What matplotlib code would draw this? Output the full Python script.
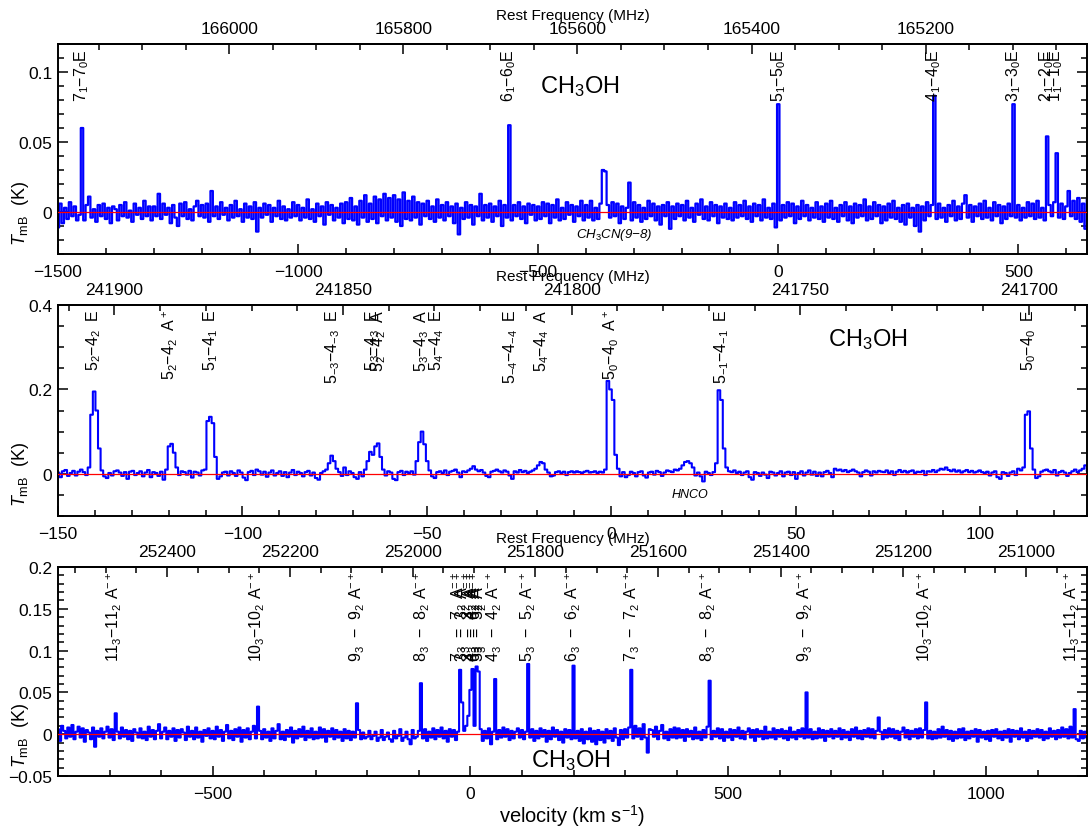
import numpy as np
import matplotlib
matplotlib.use("Agg")
import matplotlib.pyplot as plt
import matplotlib.transforms as mtransforms
from matplotlib.ticker import MultipleLocator, FixedLocator, FuncFormatter

plt.rcParams['font.family'] = ['Liberation Sans', 'DejaVu Sans']
plt.rcParams['mathtext.fontset'] = 'custom'
plt.rcParams['mathtext.rm'] = 'Liberation Sans'
plt.rcParams['mathtext.it'] = 'Liberation Sans:italic'
plt.rcParams['mathtext.bf'] = 'Liberation Sans:bold'

C_KMS = 299792.458

# ---------------- 165 GHz band: CH3OH J_1 - J_0 E ----------------
top_f0 = 165369.3            # MHz, reference frequency of v = 0
top_v_start = -1500.0        # km/s, first channel
top_dv = 5.0                 # km/s, channel width
top_tmb_mk = [
    -11, 6, -8, 3, -5, 7, -3, 4, -6, -2, 60, -6, 5, 11, -4, 2, -7, 5, -3, 6,
    -5, 3, -8, 4, 2, -6, 5, -3, 7, -4, 1, -7, 6, -2, 3, -5, 8, -3, 4, -6,
    4, -3, 13, -5, 6, -2, 3, -8, 5, -4, -10, 6, -3, 7, -5, 2, -6, 4, 8, -3,
    5, -4, 6, -7, 15, -3, 4, -5, 7, -2, 3, -6, 5, -4, 8, -3, 2, -7, 6, -4,
    4, -5, 7, -14, 3, -4, 6, -2, 5, -7, 3, -3, 8, -5, 4, -6, 2, -4, 7, -3,
    5, -6, 3, -4, 9, -5, 2, -7, 6, -3, 4, -9, 7, -2, 5, -6, 3, -4, 6, -8,
    7, -5, 10, -6, 4, -9, 8, -4, 12, -7, 6, -5, 11, -8, 9, -3, 13, -6, 10, -4,
    12, -7, 9, -10, 14, -5, 8, -6, 11, -4, 7, -9, 6, -3, 8, -5, 4, -7, 9, -4,
    5, -6, 7, -3, 4, -8, 6, -16, 3, -5, 7, -4, 5, -9, 4, -3, 13, -6, 5, -4,
    6, -7, 4, -3, 8, -10, 5, -4, 62, -6, 5, -3, 7, -5, 4, -8, 6, -2, 5, -6,
    4, -5, 7, -3, 6, -8, 5, -4, 9, -6, 3, -5, 7, -2, 5, -7, 4, -3, 8, -6,
    5, -4, 8, -6, 3, -5, 6, 30, 29, 5, -4, 7, -3, 6, -8, 4, -5, 3, 21, -6,
    7, -4, 5, -7, 3, -5, 8, -3, 6, -6, 4, -9, 5, -3, 7, -12, 4, -5, 6, -3,
    5, -6, 8, -4, 3, -7, 6, -2, 9, -5, 4, -6, 7, -3, 5, -8, 4, -4, 6, -5,
    3, -6, 7, -4, 5, -3, 8, -5, 4, -7, 6, -3, 5, -6, 9, -4, 3, -5, 6, -11,
    77, -6, 5, -4, 7, -3, 6, -8, 4, -5, 8, -3, 5, -6, 3, -4, 7, -5, 4, -7,
    6, -4, 8, -5, 3, -7, 5, -3, 7, -6, 4, -8, 6, -4, 5, -3, 9, -6, 4, -5,
    7, -3, 5, -8, 4, -6, 6, -4, 8, -5, 3, -7, 5, -9, 6, -4, 3, -10, 5, -14,
    4, -6, 7, -3, 5, 83, -5, 6, -4, 3, -7, 5, -3, 8, -6, 4, -5, 6, 12, -4,
    5, -7, 4, -3, 6, -5, 8, -4, 3, -6, 7, -3, 5, -8, 4, -5, 6, -3, 77, -4,
    5, -6, 3, -4, 7, -3, 6, -5, 8, -4, 3, -6, 54, 5, -3, 7, 42, -4, 6, -5,
    4, 15, -3, 8, -5, 10, -7, 6, -12, 9,
]
top_line_freqs = [166169.1, 165678.6, 165369.3, 165190.5, 165099.2, 165061.1, 165050.2]
top_line_labels = ["7$_1$\u22127$_0$E", "6$_1$\u22126$_0$E", "5$_1$\u22125$_0$E",
                   "4$_1$\u22124$_0$E", "3$_1$\u22123$_0$E", "2$_1$\u22122$_0$E",
                   "1$_1$\u22121$_0$E"]

# ---------------- 241.8 GHz band: CH3OH 5_K - 4_K ----------------
mid_f0 = 241791.35
mid_v_start = -150.0
mid_dv = 0.7
mid_tmb_mk = [
    3, -8, 6, 9, -5, 2, 7, -4, 5, 10, 4, -3, 15, 140, 195, 150, 60, 8, -6, -10,
    2, -4, 6, 8, 3, -5, 4, -12, 5, 7, -3, 2, 6, -6, 3, 9, -8, 4, 2, -5,
    5, -14, 10, 65, 71, 50, 15, -3, 6, 4, -2, 7, -9, 5, 3, -4, 8, 10, 125, 135,
    120, 40, -12, -6, 3, 5, -4, 6, 2, -5, 8, 3, -9, -15, 4, 7, -3, 10, 6, -2,
    5, -7, 3, 8, -4, 2, 6, -5, 4, -8, 3, 9, -3, 5, 2, -6, 4, 7, -4, 3,
    -10, -14, 2, 6, 10, 25, 43, 30, 12, 4, -5, 15, -3, 6, 2, -8, -12, 4, -6, 10,
    30, 52, 45, 65, 72, 40, 10, -4, 6, 3, -12, -15, 4, 7, -3, 5, 2, 6, -2, 30,
    75, 100, 70, 30, 8, -6, -10, 4, 6, 2, 8, -3, 5, 7, 10, 3, -8, 6, 4, 8,
    12, 18, 10, 6, 9, 3, -5, -8, 5, 7, 10, 6, 3, 8, 5, -4, -12, 6, 3, 9,
    4, 7, 2, 5, 8, 12, 20, 28, 25, 10, 3, -6, -4, 4, 6, 2, 5, -3, 4, 6,
    3, 6, 4, 2, 5, 7, 3, 4, 6, 2, 5, 3, 10, 220, 200, 175, 45, 12, -6, 4,
    -8, -3, 5, 2, -6, 4, 6, -4, -9, 3, 5, -2, 7, 4, -5, 3, 8, 6, 4, 10,
    8, 12, 20, 28, 30, 25, 15, -4, 3, -6, -18, 5, 2, -3, 4, 25, 198, 175, 60, 15,
    6, 4, 8, 2, 5, -3, 3, 6, -8, -14, 4, 2, -5, 3, -2, -10, 5, 3, -4, 2,
    6, -6, 3, 5, -3, 4, -12, 2, 6, -4, 3, 8, -2, 5, -5, 3, -6, 4, 7, 2,
    -8, 12, 8, 10, 6, 9, 4, 7, 10, 6, 3, -6, 4, 8, 5, -4, 6, 3, 7, 5,
    4, 8, 2, 6, -3, 5, 9, 4, 7, 3, 6, 8, 2, 5, 4, 7, -3, 6, 5, 9,
    4, 8, 12, 10, 15, 9, 6, 10, 5, 8, 3, 6, 9, 4, 7, 3, 5, 8, 4, 2,
    5, -4, 3, 6, -8, -12, 4, 2, -5, 3, 6, -3, 12, 8, 15, 140, 148, 60, 10, -10,
    -6, 5, 8, 10, 6, 3, 9, -4, 4, 7, 3, -5, 2, 6, 10, 4, 8, 12, 20, 6,
]
mid_line_freqs = [241904.64, 241887.67, 241879.03, 241852.30, 241843.60, 241842.28,
                  241832.72, 241829.63, 241813.26, 241806.52, 241791.35, 241767.23,
                  241700.16]
mid_line_labels = ["5$_2$\u22124$_2$  E", "5$_2$\u22124$_2$  A$^+$", "5$_1$\u22124$_1$  E",
                   "5$_{-3}$\u22124$_{-3}$  E", "5$_3$\u22124$_3$  E", "5$_2$\u22124$_2$  A",
                   "5$_3$\u22124$_3$  A", "5$_4$\u22124$_4$  E", "5$_{-4}$\u22124$_{-4}$  E",
                   "5$_4$\u22124$_4$  A", "5$_0$\u22124$_0$  A$^+$", "5$_{-1}$\u22124$_{-1}$  E",
                   "5$_0$\u22124$_0$  E"]

# ---------------- 251.9 GHz band: CH3OH J_3 - J_2 A ----------------
bot_f0 = 251905.73
bot_v_start = -800.0
bot_dv = 4.0
bot_tmb_mk = [
    6, -8, 10, 4, -5, 8, -3, 11, -6, 3, 9, -4, 7, -9, 5, 2, -6, 8, -15, 4, -3, 7, -5, 3, 9,
    -4, 6, -7, 25, 3, -5, 8, -3, 5, -6, 4, -8, 6, 2, -4, 7, -5, 3, -7, 9, -3, 5, -6, 4, 12,
    -5, 3, 8, -6, 4, -3, 7, -8, 5, -4, 6, 2, -7, 9, -3, 4, -6, 8, -4, 3, -9, 5, -2, 7, -5,
    4, -6, 9, -3, 5, -8, 3, 11, -5, 4, -7, 6, -3, 8, -9, 5, -4, 7, -6, 3, 10, -5, 33, 4, -6,
    6, -4, 3, -8, 7, -5, 4, 12, -6, 3, -7, 5, -3, 8, -10, 4, -5, 6, -3, 9, -7, 4, -4, 7, -6,
    3, -5, 8, -4, 6, -9, 4, -3, 7, -6, 5, -4, 3, -8, 6, -5, 4, -7, 3, -4, 37, 5, -6, 2, -5,
    -3, 4, -6, -2, 3, -8, -4, 5, -7, -3, 2, -6, -9, 4, -5, -2, 6, -8, -4, 3, -6, -12, 5, -5, -3,
    4, 61, -5, 6, -8, 3, -4, 7, -6, 5, -3, 8, -5, 4, -9, 6, -3, 5, -7, 3, 77, 38, 4, 10, 22,
    53, 78, 10, 81, 75, 6, -8, 4, -5, 7, -12, 3, 66, -6, 5, -4, 8, -3, 6, -7, 4, -5, 3, 7, -4,
    5, -6, 3, 84, -4, 6, -8, 4, -5, 7, -3, 5, -9, 4, -6, 8, -3, 5, -7, 3, -10, 6, -4, 5, -6,
    82, -5, 4, -8, 6, -11, 3, -6, 7, -9, 4, -12, 5, -7, 3, -10, 6, -5, 4, -8, 7, -4, -13, 5, -6,
    6, -4, 8, 77, -5, 10, -3, 7, -6, 12, -4, -22, 6, 5, -3, 9, -6, 4, 11, -5, 3, -7, 6, -4, 8,
    -5, 7, -4, 5, -8, 6, -3, 4, -6, 8, -5, 3, -7, 5, -4, 9, 64, -6, 4, -3, 7, -5, 6, -8, 3,
    -4, 6, -7, 5, -3, 8, -5, 4, -6, 3, 7, -4, 5, -8, 6, -3, 4, -6, 9, -5, 3, -4, 7, -6, 5,
    -3, 6, -5, 4, -7, 8, -4, 3, -6, 5, -3, 7, -5, 50, -4, 6, -6, 3, -5, 7, -4, 5, -8, 4, -3,
    6, -5, 4, -3, 7, -6, 5, -4, 3, -7, 6, -3, 8, -5, 4, -6, 5, -3, 7, -4, 6, -5, 4, 20, 3,
    -6, 5, -4, 7, -3, 6, -5, 4, -7, 3, 8, -4, 5, -6, 4, -3, 6, -5, 7, -4, 5, 38, -5, 4, -6,
    3, -5, 6, -4, 9, -3, 5, -6, 4, -8, 3, -5, 6, -4, 7, -7, 3, -5, 4, -3, 6, -9, 5, -4, 3,
    -6, 4, -8, 5, -3, 6, -5, 3, -7, 4, -4, 6, -9, 5, -3, 4, -6, 7, -4, 3, -8, 5, -5, 4, -3,
    6, -4, 5, -7, 3, -5, 7, -3, 4, -6, 5, -4, 8, -3, 6, -5, 9, -4, 30, -6, -8, 4, -5, 3, -4,
    5,
]
bot_line_freqs = [252485.7, 252252.9, 252090.42, 251984.84, 251923.70, 251917.04,
                  251905.73, 251900.45, 251895.73, 251890.89, 251866.52, 251811.96,
                  251738.52, 251641.67, 251517.3, 251359.9, 251164.1, 250924.4]
bot_line_labels = ["11$_3$\u221211$_2$ A$^{-+}$", "10$_3$\u221210$_2$ A$^{-+}$",
                   "9$_3$  \u2212  9$_2$ A$^{-+}$", "8$_3$  \u2212  8$_2$ A$^{-+}$",
                   "7$_3$  \u2212  7$_2$ A$^{-+}$", "3$_3$  \u2212  3$_2$ A$^{-+}$",
                   "3$_3$  \u2212  3$_2$ A$^{-+}$", "4$_3$  \u2212  4$_2$ A$^{-+}$",
                   "6$_3$  \u2212  6$_2$ A$^{-+}$", "5$_3$  \u2212  5$_2$ A$^{-+}$",
                   "4$_3$  \u2212  4$_2$ A$^{-+}$", "5$_3$  \u2212  5$_2$ A$^{-+}$",
                   "6$_3$  \u2212  6$_2$ A$^{-+}$", "7$_3$  \u2212  7$_2$ A$^{-+}$",
                   "8$_3$  \u2212  8$_2$ A$^{-+}$", "9$_3$  \u2212  9$_2$ A$^{-+}$",
                   "10$_3$\u221210$_2$ A$^{-+}$", "11$_3$\u221211$_2$ A$^{-+}$"]


def num_fmt(x, pos):
    if abs(x) < 1e-9:
        x = 0.0
    return f"{x:g}".replace("-", "\u2212")


def freq_fmt(x, pos):
    return f"{x:.0f}"


def draw_panel(ax, v_start, dv, tmb_mk, f0, xlim, ylim, vmaj, vmin, ymaj, ymin,
               fmaj, fmin, line_freqs, line_labels, label_fs, lw):
    vel = v_start + dv * np.arange(len(tmb_mk))
    tmb = np.asarray(tmb_mk, dtype=float) / 1000.0
    ax.step(vel, tmb, where='mid', color='blue', lw=lw, zorder=2, snap=False)
    ax.axhline(0.0, color='red', lw=0.9, zorder=3)
    ax.set_xlim(*xlim)
    ax.set_ylim(*ylim)

    ax.xaxis.set_major_locator(MultipleLocator(vmaj))
    ax.xaxis.set_minor_locator(MultipleLocator(vmin))
    ax.yaxis.set_major_locator(MultipleLocator(ymaj))
    ax.yaxis.set_minor_locator(MultipleLocator(ymin))
    ax.xaxis.set_major_formatter(FuncFormatter(num_fmt))
    ax.yaxis.set_major_formatter(FuncFormatter(num_fmt))
    ax.tick_params(axis='both', which='both', direction='in', width=1.1,
                   labelsize=12.5)
    ax.tick_params(axis='x', which='both', top=False, bottom=True, pad=7)
    ax.tick_params(axis='y', which='both', left=True, right=True, pad=4)
    ax.tick_params(which='major', length=7)
    ax.tick_params(which='minor', length=4)
    for sp in ax.spines.values():
        sp.set_linewidth(1.4)

    def v2f(v):
        return f0 * (1.0 - np.asarray(v) / C_KMS)

    def f2v(f):
        return C_KMS * (1.0 - np.asarray(f) / f0)

    # frequency ticks restricted to the visible band
    f_lo, f_hi = sorted(v2f(np.array(xlim, dtype=float)))
    maj = np.arange(np.ceil(f_lo / fmaj) * fmaj, f_hi + 1e-6, fmaj)
    mnr = np.arange(np.ceil(f_lo / fmin) * fmin, f_hi + 1e-6, fmin)

    sec = ax.secondary_xaxis('top', functions=(v2f, f2v))
    sec.xaxis.set_major_locator(FixedLocator(maj))
    sec.xaxis.set_minor_locator(FixedLocator(mnr))
    sec.xaxis.set_major_formatter(FuncFormatter(freq_fmt))
    sec.tick_params(axis='x', which='both', direction='in', width=1.1,
                    labelsize=12.5, pad=6)
    sec.tick_params(which='major', length=7)
    sec.tick_params(which='minor', length=4)
    sec.spines['top'].set_linewidth(1.4)
    sec.set_xlabel("Rest Frequency (MHz)", fontsize=11, labelpad=1)

    blend = mtransforms.blended_transform_factory(ax.transData, ax.transAxes)
    for f, lab in zip(line_freqs, line_labels):
        v = C_KMS * (1.0 - f / f0)
        ax.text(v, 0.982, lab, transform=blend, rotation=90, ha='center',
                va='top', fontsize=label_fs, zorder=4)

    yblend = mtransforms.blended_transform_factory(ax.transAxes, ax.transData)
    ax.text(-0.036, 0.0, "$T_\\mathrm{mB}$  (K)", transform=yblend, rotation=90,
            ha='center', va='center', fontsize=13)
    return sec


fig = plt.figure(figsize=(10.89, 8.28), dpi=100)
ax_top = fig.add_axes([0.05326, 0.69203, 0.9449, 0.25362])
ax_mid = fig.add_axes([0.05326, 0.37560, 0.9449, 0.25483])
ax_bot = fig.add_axes([0.05326, 0.06159, 0.9449, 0.25242])

draw_panel(ax_top, top_v_start, top_dv, top_tmb_mk, top_f0, (-1500, 643), (-0.03, 0.12),
           500, 100, 0.05, 0.01, 200, 50, top_line_freqs, top_line_labels, 11.5, 1.6)
draw_panel(ax_mid, mid_v_start, mid_dv, mid_tmb_mk, mid_f0, (-150, 129), (-0.1, 0.4),
           50, 10, 0.2, 0.05, 50, 10, mid_line_freqs, mid_line_labels, 11.5, 1.5)
draw_panel(ax_bot, bot_v_start, bot_dv, bot_tmb_mk, bot_f0, (-800, 1196), (-0.05, 0.2),
           500, 100, 0.05, 0.01, 200, 50, bot_line_freqs, bot_line_labels, 11.5, 1.5)

ax_top.text(0.507, 0.80, "CH$_3$OH", transform=ax_top.transAxes, fontsize=17,
            ha='center', va='center')
ax_top.text(0.541, 0.095, "CH$_3$CN(9\u22128)", transform=ax_top.transAxes,
            fontsize=9.5, style='italic', ha='center', va='center')
ax_mid.text(0.787, 0.839, "CH$_3$OH", transform=ax_mid.transAxes, fontsize=17,
            ha='center', va='center')
ax_mid.text(0.614, 0.104, "HNCO", transform=ax_mid.transAxes, fontsize=9,
            style='italic', ha='center', va='center')
ax_bot.text(0.4985, 0.081, "CH$_3$OH", transform=ax_bot.transAxes, fontsize=17,
            ha='center', va='center')
ax_bot.set_xlabel("velocity (km s$^{-1}$)", fontsize=14.5, labelpad=1)

fig.savefig("out.png", dpi=100)
